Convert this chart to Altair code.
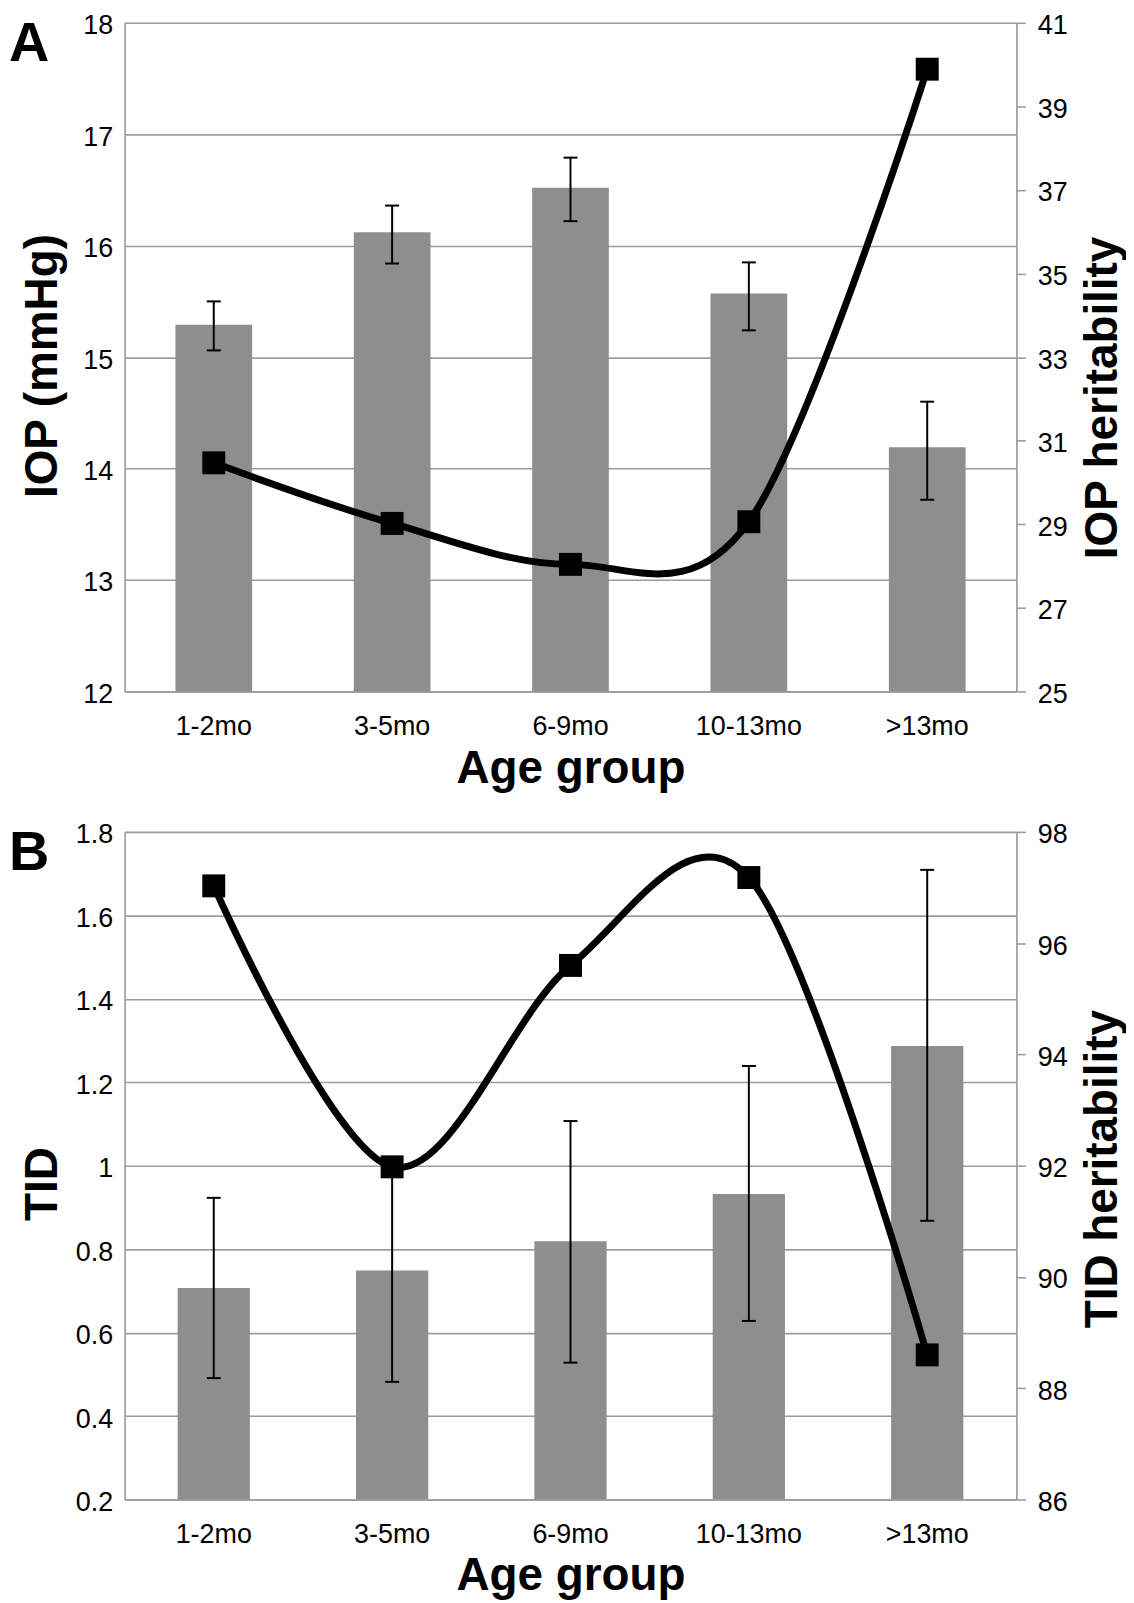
import altair as alt
import pandas as pd

# ---- data ----
ages = ["1-2mo", "3-5mo", "6-9mo", "10-13mo", ">13mo"]

iop_mean = [15.29, 16.12, 16.52, 15.57, 14.19]
iop_lo = [15.06, 15.84, 16.22, 15.24, 13.72]
iop_hi = [15.50, 16.36, 16.79, 15.85, 14.60]
iop_h2 = [30.47, 29.02, 28.04, 29.06, 39.89]

tid_mean = [0.707, 0.749, 0.819, 0.932, 1.287]
tid_lo = [0.491, 0.482, 0.528, 0.628, 0.868]
tid_hi = [0.923, 1.016, 1.107, 1.239, 1.709]
tid_h2 = [97.03, 91.98, 95.60, 97.18, 88.60]

iop_ticks = [12, 13, 14, 15, 16, 17, 18]
iop_h2_ticks = [25, 27, 29, 31, 33, 35, 37, 39, 41]
tid_ticks = [0.2, 0.4, 0.6, 0.8, 1.0, 1.2, 1.4, 1.6, 1.8]
tid_h2_ticks = [86, 88, 90, 92, 94, 96, 98]

panel_letters = ["A", "B"]

FONT = "Liberation Sans"
GRID = "#9c9c9c"
BAR = "#8e8e8e"
W = 895
LBL = 27
TTL = 46


def panel(letter, mean, lo, hi, h2, ldom, lticks, ltitle, ltitle_y,
          rdom, rticks, rtitle, rtitle_y, height, bar_frac, xtitle_y):
    df = pd.DataFrame({"age": ages, "mean": mean, "lo": lo, "hi": hi, "h2": h2})
    base = alt.Chart(df)

    xscale = alt.Scale(paddingInner=0, paddingOuter=0)
    x_axis = alt.Axis(
        title="Age group", labelAngle=0, labelFont=FONT, labelFontSize=LBL,
        labelColor="black", labelPadding=22, ticks=False, tickSize=0,
        domainColor=GRID, domainWidth=1.5, grid=False,
        titleFont=FONT, titleFontSize=TTL, titleFontWeight="bold",
        titleColor="black", titleBaseline="alphabetic", titleY=xtitle_y,
    )
    x_enc = alt.X("age:N", sort=ages, scale=xscale, axis=x_axis)

    lscale = alt.Scale(domain=ldom, nice=False, zero=False)
    l_axis = alt.Axis(
        orient="left", values=lticks, format="~g", grid=True, gridColor=GRID,
        gridWidth=1.6, ticks=False, tickSize=0, domainColor=GRID,
        domainWidth=1.6, labelFont=FONT, labelFontSize=LBL, labelColor="black",
        labelPadding=12, labelOffset=3, title=ltitle, titleFont=FONT,
        titleFontSize=TTL, titleFontWeight="bold", titleColor="black",
        titleAngle=270, titleX=-68, titleY=ltitle_y, titleAlign="center",
        titleBaseline="alphabetic",
    )

    bars = base.mark_bar(color=BAR, clip=True,
                         width=alt.RelativeBandSize(bar_frac)).encode(
        x=x_enc, y=alt.Y("mean:Q", scale=lscale, axis=l_axis)
    )
    err = base.mark_rule(color="black", strokeWidth=2).encode(
        x=x_enc, y=alt.Y("lo:Q", scale=lscale, axis=l_axis), y2="hi:Q"
    )
    cap_lo = base.mark_tick(color="black", thickness=2, size=14, opacity=1).encode(
        x=x_enc, y=alt.Y("lo:Q", scale=lscale, axis=l_axis)
    )
    cap_hi = base.mark_tick(color="black", thickness=2, size=14, opacity=1).encode(
        x=x_enc, y=alt.Y("hi:Q", scale=lscale, axis=l_axis)
    )
    left = alt.layer(bars, err, cap_lo, cap_hi)

    rscale = alt.Scale(domain=rdom, nice=False, zero=False)
    r_axis = alt.Axis(
        orient="right", values=rticks, format="~g", grid=False, ticks=True,
        tickSize=9, tickColor=GRID, tickWidth=1.6, domainColor=GRID,
        domainWidth=1.6, labelFont=FONT, labelFontSize=LBL, labelColor="black",
        labelPadding=12, labelOffset=3, title=rtitle, titleFont=FONT,
        titleFontSize=TTL, titleFontWeight="bold", titleColor="black",
        titleAngle=270, titleX=100, titleY=rtitle_y, titleAlign="center",
        titleBaseline="alphabetic",
    )
    line = base.mark_line(color="black", strokeWidth=7, interpolate="cardinal",
                          tension=0).encode(
        x=x_enc, y=alt.Y("h2:Q", scale=rscale, axis=r_axis)
    )
    pts = base.mark_point(shape="square", filled=True, size=530, color="black",
                          opacity=1).encode(
        x=x_enc, y=alt.Y("h2:Q", scale=rscale, axis=r_axis)
    )
    right = alt.layer(line, pts)

    lab = alt.Chart(pd.DataFrame({"t": [letter]})).mark_text(
        align="left", baseline="alphabetic", font=FONT, fontSize=56,
        fontWeight="bold", color="black"
    ).encode(x=alt.value(-116), y=alt.value(38), text="t:N")

    return alt.layer(left, right, lab).resolve_scale(y="independent").properties(
        width=W, height=height
    )


pA = panel(panel_letters[0], iop_mean, iop_lo, iop_hi, iop_h2, [12, 18], iop_ticks,
           "IOP (mmHg)", 344, [25, 41], iop_h2_ticks, "IOP heritability", 376,
           671, 0.43, 91)
pB = panel(panel_letters[1], tid_mean, tid_lo, tid_hi, tid_h2, [0.2, 1.8], tid_ticks,
           "TID", 353, [86, 98], tid_h2_ticks, "TID heritability", 338,
           670, 0.405, 90)

chart = alt.vconcat(pA, pB, spacing=28).properties(padding=0).configure_view(
    strokeWidth=0
).configure(background="white")

chart.save("out.html", embed_options={"renderer": "svg", "actions": False})
